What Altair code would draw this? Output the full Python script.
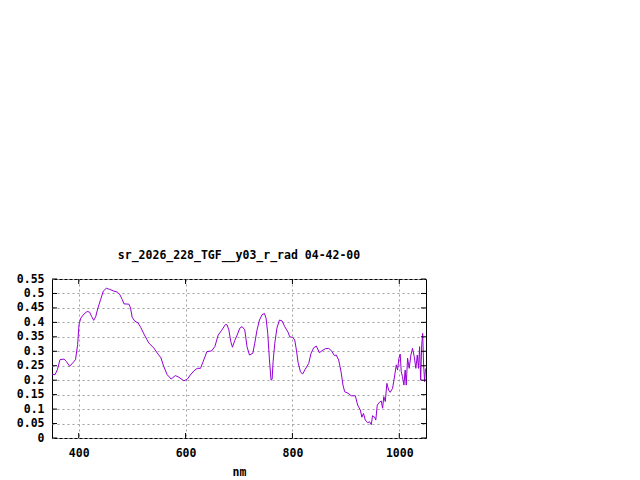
import altair as alt
import pandas as pd

wavelength = [350, 355.7, 360, 365, 372.5, 376.8, 383, 389, 394, 398, 400.5, 404, 410, 416, 420.5,
              424, 428, 431.7, 436, 441, 446, 451.6, 458, 466, 472, 477, 481.5, 484.7, 494, 497,
              500, 505, 511, 516, 522, 531, 540.7, 547, 554, 559, 565.6, 573, 581, 587.5, 596.8,
              603, 609, 615.5, 621.7, 628, 634, 640, 648.6, 654.8, 661, 667, 674.8, 677.8, 681,
              684.7, 687.8, 692, 696.5, 701.5, 705.8, 710.8, 715, 719.6, 725.8, 729.5, 733.8,
              738.3, 743, 747.6, 750.7, 753.8, 757, 760, 762, 763.8, 767, 771, 775.7, 780.6,
              785.6, 791.8, 795, 800.6, 804.3, 807.5, 810.5, 815, 819, 824, 830.5, 834.8, 839.8,
              844.8, 850.5, 855.4, 861.7, 867.9, 872.9, 878.5, 882, 886.5, 891, 894.6, 897.8,
              904, 910, 917.8, 922, 927, 930, 933, 936.4, 940.7, 944.4, 947.6, 950, 953.8, 956,
              958.8, 962.6, 966.3, 968.8, 971, 973.8, 976.8, 980, 983, 987.5, 990.6, 994.4,
              996.8, 999.3, 1001.7, 1003.7, 1006, 1008.6, 1011, 1013, 1015.5, 1018.6, 1021.7,
              1024.8, 1028, 1031, 1033.7, 1036, 1038, 1040, 1042, 1043.8, 1045.5, 1047.4, 1049]
radiance = [0.221, 0.219, 0.236, 0.271, 0.273, 0.265, 0.248, 0.26, 0.271, 0.323, 0.392, 0.415,
            0.429, 0.438, 0.435, 0.421, 0.407, 0.419, 0.45, 0.479, 0.508, 0.518, 0.514, 0.508,
            0.505, 0.496, 0.479, 0.464, 0.463, 0.45, 0.418, 0.404, 0.398, 0.383, 0.36, 0.329,
            0.311, 0.294, 0.277, 0.248, 0.219, 0.204, 0.216, 0.21, 0.198, 0.203, 0.218, 0.232,
            0.241, 0.241, 0.27, 0.299, 0.301, 0.316, 0.356, 0.371, 0.393, 0.391, 0.374, 0.333,
            0.314, 0.337, 0.356, 0.38, 0.385, 0.374, 0.316, 0.287, 0.293, 0.328, 0.374, 0.408,
            0.426, 0.431, 0.414, 0.362, 0.27, 0.2, 0.203, 0.264, 0.328, 0.38, 0.408, 0.405,
            0.385, 0.366, 0.35, 0.348, 0.339, 0.304, 0.262, 0.229, 0.221, 0.238, 0.258, 0.293,
            0.312, 0.318, 0.295, 0.302, 0.309, 0.31, 0.302, 0.285, 0.287, 0.27, 0.229, 0.183,
            0.16, 0.155, 0.146, 0.146, 0.114, 0.097, 0.072, 0.085, 0.062, 0.053, 0.056, 0.046,
            0.077, 0.072, 0.062, 0.114, 0.123, 0.128, 0.103, 0.143, 0.126, 0.189, 0.166, 0.158,
            0.172, 0.207, 0.253, 0.235, 0.276, 0.29, 0.229, 0.212, 0.183, 0.235, 0.183, 0.276,
            0.241, 0.287, 0.31, 0.281, 0.241, 0.287, 0.241, 0.316, 0.2, 0.322, 0.362, 0.253,
            0.195, 0.24]

x_ticks = [400, 600, 800, 1000]
y_ticks = [0, 0.05, 0.1, 0.15, 0.2, 0.25, 0.3, 0.35, 0.4, 0.45, 0.5, 0.55]

title_text = "sr_2026_228_TGF__y03_r_rad 04-42-00"
x_title = "nm"

W, H = 374, 159
TL = 5
FONT = "DejaVu Sans Mono"
COLOR = "#9400D3"

df = pd.DataFrame({"nm": wavelength, "v": radiance})
xt = pd.DataFrame({"nm": x_ticks})
yt = pd.DataFrame({"v": y_ticks})

xscale = alt.Scale(domain=[350, 1050], nice=False, zero=False)
yscale = alt.Scale(domain=[0, 0.55], nice=False)

xaxis = alt.Axis(values=x_ticks, format="d", title=x_title, grid=True,
                 ticks=False, domain=False, labelPadding=9, titlePadding=8)
yaxis = alt.Axis(values=y_ticks, format=".2~f", title=None, grid=True,
                 ticks=False, domain=False, labelPadding=8)

X = alt.X("nm:Q", scale=xscale, axis=xaxis)
Y = alt.Y("v:Q", scale=yscale, axis=yaxis)

line = alt.Chart(df).mark_line(color=COLOR, strokeWidth=1, clip=True).encode(x=X, y=Y)

left_ticks = alt.Chart(yt).mark_rule(color="black", strokeWidth=1).encode(
    y=Y, x=alt.value(0), x2=alt.value(TL))
right_ticks = alt.Chart(yt).mark_rule(color="black", strokeWidth=1).encode(
    y=Y, x=alt.value(W - TL), x2=alt.value(W))
bottom_ticks = alt.Chart(xt).mark_rule(color="black", strokeWidth=1).encode(
    x=X, y=alt.value(H - TL), y2=alt.value(H))
top_ticks = alt.Chart(xt).mark_rule(color="black", strokeWidth=1).encode(
    x=X, y=alt.value(0), y2=alt.value(TL))

chart = alt.layer(line, left_ticks, right_ticks, bottom_ticks, top_ticks).properties(
    width=W, height=H,
    title=alt.TitleParams(title_text, font=FONT, fontSize=11.5, fontWeight="bold",
                          color="black", anchor="middle", offset=12),
    autosize=alt.AutoSizeParams(type="none"),
    padding={"left": 44, "top": 271, "right": 10, "bottom": 40},
    background="white",
).configure_view(
    stroke="black", strokeWidth=1
).configure_axis(
    labelFont=FONT, labelFontSize=11.5, labelFontWeight="bold", labelColor="black",
    titleFont=FONT, titleFontSize=11.5, titleFontWeight="bold", titleColor="black",
    gridColor="#a0a0a0", gridDash=[2, 3], gridWidth=1,
)

chart.save("out.html", embed_options={"renderer": "svg", "actions": False})
